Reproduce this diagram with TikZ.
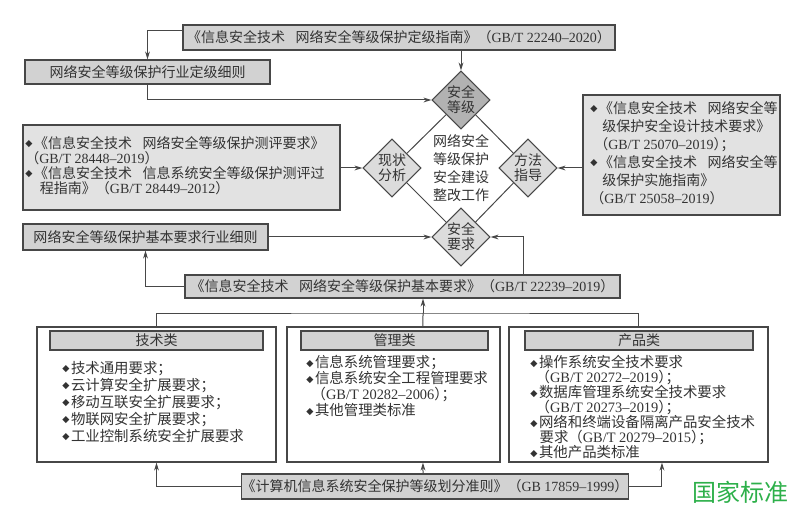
\documentclass[tikz,border=0pt]{standalone}
\usepackage{fontspec}
\setmainfont{Noto Sans CJK SC}
\newfontfamily\lat{Liberation Serif}
\newfontfamily\dv{DejaVu Sans}
\usetikzlibrary{shapes.geometric,arrows.meta}
\definecolor{ink}{HTML}{333333}
\definecolor{edge}{HTML}{474747}
\definecolor{boxgray}{HTML}{D2D2D2}
\definecolor{lightgray}{HTML}{E2E2E2}
\definecolor{darkdia}{HTML}{B2B2B2}
\definecolor{lightdia}{HTML}{DCDCDC}
\definecolor{wmgreen}{HTML}{2DB04A}
\newcommand{\bul}{\raisebox{1.1pt}{\dv\fontsize{7}{7}\selectfont ◆}\hspace{1.2pt}}
\newcommand{\gbn}[1]{（{\lat #1}）}
\newcommand{\gbs}[1]{（{\lat #1}）\kern-0.5em；}
\newcommand{\zsp}{\hspace{0.75em}}
\tikzset{
  gbox/.style={draw=edge, line width=0.9pt, fill=boxgray, inner sep=0pt, align=center},
  lbox/.style={draw=edge, line width=0.9pt, fill=lightgray, inner sep=0pt},
  cbox/.style={draw=edge, line width=0.9pt, fill=white, inner sep=0pt},
  hbar/.style={draw=edge, line width=0.8pt, fill=boxgray, inner sep=0pt, minimum height=14.25pt},
  items/.style={inner sep=0pt, align=left, anchor=north west},
  dia/.style={diamond, aspect=1, draw=edge, line width=0.8pt, inner sep=0pt,
    minimum width=43.5pt, minimum height=43.5pt, align=center,
    font=\fontsize{10.5}{11.25}\selectfont},
  conn/.style={draw=edge, line width=0.75pt},
  arr/.style={conn, -{Stealth[length=6pt,width=3.6pt]}}
}
\begin{document}
\begin{tikzpicture}[x=0.75pt,y=-0.75pt, font=\fontsize{10.5}{13}\selectfont, text=ink]
\useasboundingbox[fill=white] (0,0) rectangle (802,509);

% top row boxes
\node[gbox, minimum width=324pt, minimum height=18.75pt] (top) at (399,37.5)
  {《信息安全技术\zsp 网络安全等级保护定级指南》\gbn{GB/T 22240–2020}};
\node[gbox, minimum width=183.75pt, minimum height=18pt] (lvl) at (147.5,72)
  {网络安全等级保护行业定级细则};

% diamonds
\node[dia, fill=darkdia] (lvlD) at (461,100) {安全\\等级};
\node[dia, fill=lightdia] (anaD) at (392,168) {现状\\分析};
\node[dia, fill=lightdia] (metD) at (528,168) {方法\\指导};
\node[dia, fill=lightdia] (reqD) at (461,237) {安全\\要求};
\draw[conn] (lvlD) -- (anaD) -- (reqD) -- (metD) -- (lvlD);
\node[align=center, inner sep=0pt, font=\fontsize{10.5}{13.5}\selectfont] (core) at (461,168.5)
  {网络安全\\等级保护\\安全建设\\整改工作};

% left evaluation box
\node[lbox, minimum width=237.75pt, minimum height=63.75pt] (eval) at (181.5,167.5) {};
\node[items, font=\fontsize{10.5}{11.25}\selectfont] (evalT) at (25,136)
  {\bul《信息安全技术\zsp 网络安全等级保护测评要求》\\
   \gbn{GB/T 28448–2019}\\
   \bul《信息安全技术\zsp 信息系统安全等级保护测评过\\
   \hspace*{11pt}程指南》\gbn{GB/T 28449–2012}};

% right design box
\node[lbox, minimum width=147.75pt, minimum height=90pt] (design) at (681.5,155) {};
\node[items, font=\fontsize{10.5}{13.5}\selectfont] (designT) at (590,101)
  {\bul《信息安全技术\zsp 网络安全等\\
   \hspace*{9pt}级保护安全设计技术要求》\\
   \hspace*{3pt}\gbs{GB/T 25070–2019}\\
   \bul《信息安全技术\zsp 网络安全等\\
   \hspace*{9pt}级保护实施指南》\\
   \gbn{GB/T 25058–2019}};

% basic requirement boxes
\node[gbox, minimum width=183.75pt, minimum height=19.5pt] (bdet) at (145.5,237)
  {网络安全等级保护基本要求行业细则};
\node[gbox, minimum width=326.25pt, minimum height=17.25pt] (basic) at (402.5,286.5)
  {《信息安全技术\zsp 网络安全等级保护基本要求》\gbn{GB/T 22239–2019}};

% three category containers
\node[cbox, minimum width=179.25pt, minimum height=101.25pt] (tech) at (156.5,394.5) {};
\node[hbar, minimum width=159.75pt] (techH) at (156.5,340.5) {技术类};
\node[items, font=\fontsize{10.8}{12.75}\selectfont] (techT) at (62,361)
  {\bul 技术通用要求；\\
   \bul 云计算安全扩展要求；\\
   \bul 移动互联安全扩展要求；\\
   \bul 物联网安全扩展要求；\\
   \bul 工业控制系统安全扩展要求};

\node[cbox, minimum width=159.75pt, minimum height=101.25pt] (mgmt) at (393.5,394.5) {};
\node[hbar, minimum width=140.25pt] (mgmtH) at (394.5,340.5) {管理类};
\node[items, font=\fontsize{10.8}{12}\selectfont] (mgmtT) at (306,355)
  {\bul 信息系统管理要求；\\
   \bul 信息系统安全工程管理要求\\
   \hspace*{4pt}\gbs{GB/T 20282–2006}\\
   \bul 其他管理类标准};

\node[cbox, minimum width=194.25pt, minimum height=101.25pt] (prod) at (638.5,394.5) {};
\node[hbar, minimum width=171pt] (prodH) at (639,340.5) {产品类};
\node[items, font=\fontsize{10.8}{11.25}\selectfont] (prodT) at (530,355)
  {\bul 操作系统安全技术要求\\
   \hspace*{4pt}\gbs{GB/T 20272–2019}\\
   \bul 数据库管理系统安全技术要求\\
   \hspace*{4pt}\gbs{GB/T 20273–2019}\\
   \bul 网络和终端设备隔离产品安全技术\\
   \hspace*{7pt}要求\gbs{GB/T 20279–2015}\\
   \bul 其他产品类标准};

% bottom box
\node[gbox, minimum width=289.5pt, minimum height=18.75pt] (bot) at (435,486.5)
  {《计算机信息系统安全保护等级划分准则》\gbn{GB 17859–1999}};

% watermark
\node[text=wmgreen, inner sep=0pt, font=\fontsize{18}{18}\selectfont] (wm) at (740,492) {国家标准};

% connectors: top part
\draw[arr] ([yshift=4.9pt]top.west) -| (lvl.north);
\draw[arr] (lvl.south) |- (lvlD.west);
\draw[arr] (top.south -| lvlD.north) -- (lvlD.north);
\draw[arr] (eval.east |- anaD.west) -- (anaD.west);
\draw[arr] (design.west |- metD.east) -- (metD.east);
\draw[arr] (bdet.east) -- (reqD.west);
\draw[arr] (basic.west) -| (bdet.south);
\draw[arr] ([xshift=91.1pt]basic.north) |- (reqD.east);

% tree below basic requirement
\coordinate (hm) at (423,313);
\draw[conn] (tech.north) |- (hm) -| (prod.north);
\draw[conn] ([xshift=22.1pt]mgmt.north) -- (hm);
\draw[arr] (hm) -- (basic.south -| hm);

% bottom connectors
\draw[arr] (bot.west) -| (tech.south);
\draw[arr] (bot.north -| hm) -- ([xshift=22.1pt]mgmt.south);
\draw[arr] (bot.east) -| ([xshift=17.6pt]prod.south);
\end{tikzpicture}
\end{document}
